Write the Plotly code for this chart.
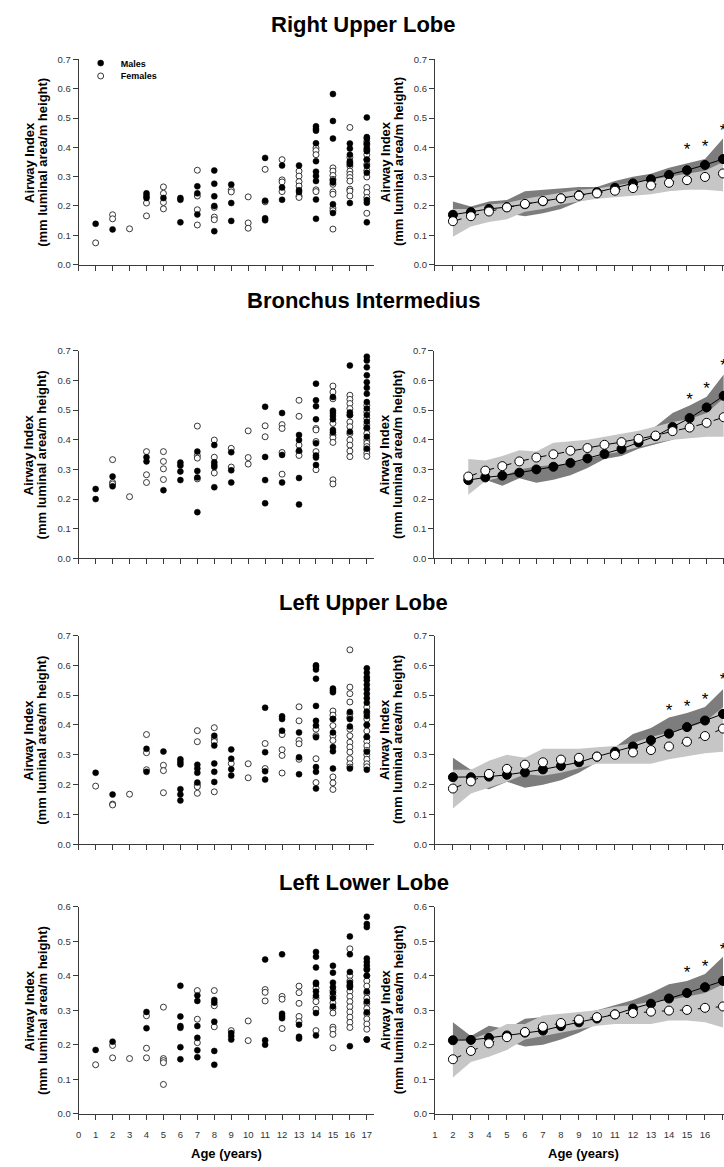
import plotly.graph_objects as go

FONT = "Liberation Sans, Arial, sans-serif"
W, H = 724, 1167

PANEL_TITLES = ["Right Upper Lobe", "Bronchus Intermedius", "Left Upper Lobe", "Left Lower Lobe"]
Y_TITLE_1 = "Airway Index"
Y_TITLE_2 = "(mm luminal area/m height)"
X_TITLE = "Age (years)"
LEGEND_NAMES = ["Males", "Females"]

SCATTER_START_AGE = 1
MODEL_AGES = list(range(2, 18))

# ---------------- individual data (one list per age, ages 1..17) ----------------
RUL_MALES = [[0.139], [0.120], [], [0.243, 0.234, 0.227], [0.227], [0.227, 0.221, 0.144],
             [0.267, 0.243, 0.171], [0.321, 0.276, 0.233, 0.200, 0.114], [0.273, 0.210, 0.149], [],
             [0.364, 0.218, 0.158, 0.151], [0.338, 0.263, 0.221], [0.338, 0.254, 0.248],
             [0.472, 0.463, 0.457, 0.414, 0.353, 0.317, 0.302, 0.285, 0.222, 0.156],
             [0.582, 0.490, 0.430, 0.287, 0.280, 0.206, 0.176],
             [0.413, 0.396, 0.375, 0.353, 0.342, 0.210],
             [0.502, 0.435, 0.430, 0.413, 0.398, 0.387, 0.358, 0.336, 0.313, 0.220, 0.211, 0.144]]
RUL_FEMALES = [[0.074], [0.170, 0.156], [0.122], [0.210, 0.166], [0.265, 0.243, 0.212, 0.190], [],
               [0.322, 0.234, 0.187, 0.135], [0.195, 0.162, 0.153], [0.255, 0.248], [0.231, 0.142, 0.124],
               [0.325, 0.214], [0.358, 0.289, 0.282, 0.249], [0.319, 0.302, 0.283, 0.268, 0.234, 0.229],
               [0.398, 0.389, 0.375, 0.255, 0.249],
               [0.330, 0.319, 0.304, 0.291, 0.274, 0.248, 0.240, 0.193, 0.184, 0.121],
               [0.468, 0.366, 0.347, 0.336, 0.319, 0.308, 0.297, 0.285, 0.257, 0.251, 0.234],
               [0.420, 0.409, 0.392, 0.375, 0.358, 0.342, 0.321, 0.299, 0.263, 0.246, 0.229, 0.175]]

BI_MALES = [[0.234, 0.200], [0.276, 0.243], [], [0.341, 0.327], [0.230], [0.323, 0.313, 0.293, 0.264],
            [0.360, 0.295, 0.273, 0.156], [0.382, 0.324, 0.315, 0.308, 0.240], [0.358, 0.297, 0.256], [],
            [0.511, 0.342, 0.264, 0.186], [0.490, 0.349, 0.256], [0.416, 0.399, 0.363, 0.271, 0.182],
            [0.589, 0.533, 0.513, 0.469, 0.388, 0.347, 0.340, 0.315],
            [0.544, 0.498, 0.490, 0.480, 0.469, 0.433, 0.425],
            [0.650, 0.492, 0.483, 0.427],
            [0.680, 0.667, 0.644, 0.617, 0.594, 0.575, 0.555, 0.527, 0.505, 0.483, 0.461, 0.440, 0.410, 0.370]]
BI_FEMALES = [[], [0.333, 0.256, 0.251], [0.208], [0.360, 0.282, 0.256], [0.360, 0.327, 0.302, 0.266], [],
              [0.446, 0.347, 0.338, 0.268], [0.399, 0.341, 0.288], [0.371, 0.308], [0.430, 0.340, 0.318],
              [0.447, 0.410], [0.451, 0.438, 0.357, 0.284], [0.533, 0.479, 0.382, 0.360, 0.347],
              [0.438, 0.433, 0.394, 0.360, 0.299],
              [0.581, 0.561, 0.538, 0.455, 0.416, 0.407, 0.391, 0.265, 0.251],
              [0.550, 0.536, 0.522, 0.505, 0.483, 0.460, 0.444, 0.421, 0.399, 0.382, 0.362, 0.343],
              [0.516, 0.494, 0.472, 0.450, 0.438, 0.421, 0.399, 0.388, 0.377, 0.366, 0.355, 0.344]]

LUL_MALES = [[0.240], [0.167], [], [0.320, 0.243], [0.311], [0.285, 0.276, 0.268, 0.185, 0.167, 0.147],
             [0.267, 0.254, 0.240, 0.207], [0.364, 0.331, 0.271, 0.243, 0.209], [0.318, 0.287, 0.252, 0.231], [],
             [0.458, 0.309, 0.245, 0.217], [0.429, 0.420, 0.381], [0.375, 0.292, 0.235],
             [0.600, 0.595, 0.586, 0.555, 0.464, 0.414, 0.398, 0.359, 0.259, 0.243, 0.187],
             [0.522, 0.516, 0.510, 0.420, 0.375, 0.326, 0.312, 0.254],
             [0.444, 0.420, 0.395, 0.254],
             [0.590, 0.575, 0.560, 0.550, 0.535, 0.520, 0.505, 0.490, 0.475, 0.445, 0.430, 0.400, 0.360, 0.310, 0.250]]
LUL_FEMALES = [[0.195], [0.135, 0.132], [0.168], [0.368, 0.307, 0.250], [0.265, 0.247, 0.173], [],
               [0.381, 0.344, 0.200, 0.193, 0.171], [0.391, 0.353, 0.344, 0.176], [0.271], [0.270, 0.223],
               [0.338, 0.254], [0.368, 0.317, 0.298, 0.239], [0.461, 0.414, 0.348, 0.337, 0.285],
               [0.386, 0.364, 0.287, 0.207],
               [0.447, 0.433, 0.420, 0.398, 0.364, 0.348, 0.226, 0.206, 0.184],
               [0.652, 0.527, 0.505, 0.477, 0.438, 0.425, 0.386, 0.364, 0.342, 0.326, 0.309, 0.287, 0.270, 0.259],
               [0.460, 0.440, 0.420, 0.400, 0.380, 0.360, 0.345, 0.330, 0.315, 0.300, 0.285, 0.270, 0.260]]

LLL_MALES = [[0.185], [0.209], [], [0.295, 0.248], [], [0.371, 0.282, 0.254, 0.249, 0.193, 0.158],
             [0.343, 0.327, 0.254, 0.220, 0.184, 0.164], [0.330, 0.322, 0.267, 0.182, 0.142],
             [0.234, 0.225, 0.215], [], [0.447, 0.213, 0.200], [0.462, 0.290, 0.283, 0.277],
             [0.258, 0.223, 0.218],
             [0.469, 0.455, 0.424, 0.380, 0.376, 0.354, 0.342, 0.292, 0.227],
             [0.429, 0.409, 0.380, 0.367, 0.351, 0.335, 0.311],
             [0.514, 0.462, 0.411, 0.380, 0.373, 0.367, 0.196],
             [0.571, 0.550, 0.541, 0.450, 0.440, 0.430, 0.417, 0.400, 0.354, 0.325, 0.294, 0.215]]
LLL_FEMALES = [[0.142], [0.198, 0.162], [0.160], [0.284, 0.190, 0.162], [0.309, 0.160, 0.154, 0.148, 0.085], [],
               [0.357, 0.274, 0.206], [0.357, 0.313, 0.252], [0.241], [0.269, 0.212],
               [0.360, 0.352, 0.327], [0.340, 0.332, 0.247], [0.370, 0.351, 0.320, 0.282, 0.267],
               [0.364, 0.335, 0.325, 0.303, 0.241],
               [0.357, 0.342, 0.321, 0.306, 0.292, 0.251, 0.244, 0.230, 0.191],
               [0.478, 0.400, 0.385, 0.370, 0.355, 0.340, 0.325, 0.310, 0.295, 0.280, 0.265, 0.250],
               [0.420, 0.400, 0.385, 0.370, 0.350, 0.335, 0.320, 0.305, 0.290, 0.275, 0.260, 0.245, 0.215]]

# ---------------- modelled means and bands (ages 2..17) ----------------
RUL_M_MEAN = [0.170, 0.179, 0.190, 0.196, 0.206, 0.216, 0.226, 0.237, 0.247, 0.262, 0.277, 0.291, 0.306, 0.322, 0.340, 0.360]
RUL_F_MEAN = [0.148, 0.165, 0.181, 0.195, 0.207, 0.217, 0.226, 0.235, 0.243, 0.252, 0.261, 0.270, 0.279, 0.288, 0.299, 0.311]
RUL_M_HI = [0.215, 0.198, 0.215, 0.220, 0.250, 0.255, 0.260, 0.265, 0.265, 0.285, 0.300, 0.310, 0.330, 0.345, 0.360, 0.430]
RUL_M_LO = [0.140, 0.165, 0.170, 0.175, 0.165, 0.175, 0.190, 0.215, 0.230, 0.240, 0.250, 0.265, 0.280, 0.290, 0.310, 0.310]
RUL_F_HI = [0.190, 0.190, 0.205, 0.210, 0.225, 0.235, 0.245, 0.255, 0.260, 0.270, 0.280, 0.290, 0.300, 0.310, 0.320, 0.350]
RUL_F_LO = [0.095, 0.130, 0.145, 0.155, 0.180, 0.190, 0.205, 0.215, 0.225, 0.230, 0.235, 0.240, 0.250, 0.255, 0.255, 0.250]

BI_M_MEAN = [0.264, 0.273, 0.279, 0.289, 0.300, 0.309, 0.322, 0.337, 0.352, 0.369, 0.391, 0.412, 0.443, 0.473, 0.509, 0.548]
BI_F_MEAN = [0.276, 0.296, 0.311, 0.327, 0.340, 0.351, 0.363, 0.372, 0.383, 0.392, 0.403, 0.414, 0.429, 0.441, 0.457, 0.476]
BI_M_HI = [0.280, 0.290, 0.300, 0.310, 0.330, 0.335, 0.345, 0.360, 0.375, 0.390, 0.420, 0.445, 0.490, 0.515, 0.545, 0.620]
BI_M_LO = [0.245, 0.265, 0.245, 0.270, 0.255, 0.265, 0.280, 0.305, 0.335, 0.345, 0.370, 0.385, 0.400, 0.430, 0.465, 0.480]
BI_F_HI = [0.335, 0.330, 0.345, 0.365, 0.360, 0.390, 0.395, 0.400, 0.410, 0.420, 0.430, 0.445, 0.460, 0.470, 0.490, 0.540]
BI_F_LO = [0.215, 0.260, 0.275, 0.300, 0.310, 0.315, 0.320, 0.335, 0.350, 0.360, 0.375, 0.390, 0.400, 0.405, 0.410, 0.410]

LUL_M_MEAN = [0.225, 0.225, 0.227, 0.233, 0.241, 0.251, 0.263, 0.275, 0.294, 0.310, 0.328, 0.349, 0.371, 0.393, 0.415, 0.437]
LUL_F_MEAN = [0.187, 0.211, 0.236, 0.253, 0.267, 0.275, 0.284, 0.290, 0.294, 0.300, 0.308, 0.316, 0.328, 0.344, 0.363, 0.388]
LUL_M_HI = [0.290, 0.250, 0.265, 0.260, 0.290, 0.285, 0.285, 0.290, 0.310, 0.325, 0.370, 0.390, 0.425, 0.440, 0.460, 0.520]
LUL_M_LO = [0.210, 0.205, 0.185, 0.210, 0.190, 0.200, 0.215, 0.240, 0.275, 0.290, 0.300, 0.315, 0.330, 0.350, 0.370, 0.370]
LUL_F_HI = [0.250, 0.250, 0.280, 0.300, 0.290, 0.320, 0.320, 0.320, 0.325, 0.330, 0.340, 0.360, 0.375, 0.390, 0.410, 0.460]
LUL_F_LO = [0.120, 0.170, 0.190, 0.210, 0.235, 0.230, 0.240, 0.255, 0.270, 0.270, 0.270, 0.270, 0.285, 0.295, 0.305, 0.310]

LLL_M_MEAN = [0.213, 0.214, 0.220, 0.227, 0.235, 0.241, 0.254, 0.265, 0.276, 0.288, 0.305, 0.319, 0.334, 0.350, 0.367, 0.385]
LLL_F_MEAN = [0.158, 0.182, 0.204, 0.222, 0.237, 0.252, 0.263, 0.273, 0.280, 0.288, 0.292, 0.296, 0.299, 0.301, 0.307, 0.311]
LLL_M_HI = [0.265, 0.225, 0.255, 0.245, 0.275, 0.280, 0.285, 0.290, 0.300, 0.315, 0.330, 0.350, 0.375, 0.385, 0.405, 0.455]
LLL_M_LO = [0.215, 0.210, 0.185, 0.210, 0.195, 0.200, 0.215, 0.235, 0.260, 0.270, 0.285, 0.290, 0.300, 0.315, 0.330, 0.330]
LLL_F_HI = [0.210, 0.215, 0.235, 0.260, 0.260, 0.285, 0.290, 0.295, 0.300, 0.310, 0.315, 0.325, 0.330, 0.340, 0.350, 0.375]
LLL_F_LO = [0.105, 0.150, 0.165, 0.185, 0.215, 0.225, 0.235, 0.245, 0.255, 0.260, 0.260, 0.260, 0.270, 0.270, 0.265, 0.250]

# significance markers (age, height)
RUL_STAR_AGES = [15, 16, 17]
RUL_STAR_Y = [0.389, 0.398, 0.454]
BI_STAR_AGES = [15, 16, 17]
BI_STAR_Y = [0.530, 0.567, 0.645]
LUL_STAR_AGES = [14, 15, 16, 17]
LUL_STAR_Y = [0.445, 0.459, 0.482, 0.548]
LLL_STAR_AGES = [15, 16, 17]
LLL_STAR_Y = [0.406, 0.423, 0.471]

Y_MAX = [0.7, 0.7, 0.7, 0.6]

# ---------------- styling / geometry ----------------
ROW_PX = [(54.0, 261.0), (348.0, 557.7), (635.5, 846.3), (909.3, 1118.3)]
TITLE_Y_PX = [18.5, 297.5, 602.5, 885.0]
LEFT_X_PX = (76.0, 373.0)
LEFT_RANGE = [0, 17.45]
RIGHT_X_PX = [(433.7, 724.0), (433.0, 724.0), (433.7, 724.0), (433.7, 724.0)]
RIGHT_RANGE = [[1, 17.056], [0, 17.02], [1, 17.056], [1, 17.056]]

DARK_BAND = "#7d7d7d"
LIGHT_BAND = "#c6c6c6"
AXIS_COLOR = "#3a3a3a"
TICK_FONT = dict(family=FONT, size=9.5, color="#333333")


def fx(p):
    return p / W


def fy(p):
    return 1 - p / H


def flatten(nested):
    xs, ys = [], []
    for i, vals in enumerate(nested):
        for v in vals:
            xs.append(SCATTER_START_AGE + i)
            ys.append(v)
    return xs, ys


scatter_sets = [(RUL_MALES, RUL_FEMALES), (BI_MALES, BI_FEMALES), (LUL_MALES, LUL_FEMALES), (LLL_MALES, LLL_FEMALES)]
model_sets = [
    (RUL_M_MEAN, RUL_F_MEAN, RUL_M_HI, RUL_M_LO, RUL_F_HI, RUL_F_LO, RUL_STAR_AGES, RUL_STAR_Y),
    (BI_M_MEAN, BI_F_MEAN, BI_M_HI, BI_M_LO, BI_F_HI, BI_F_LO, BI_STAR_AGES, BI_STAR_Y),
    (LUL_M_MEAN, LUL_F_MEAN, LUL_M_HI, LUL_M_LO, LUL_F_HI, LUL_F_LO, LUL_STAR_AGES, LUL_STAR_Y),
    (LLL_M_MEAN, LLL_F_MEAN, LLL_M_HI, LLL_M_LO, LLL_F_HI, LLL_F_LO, LLL_STAR_AGES, LLL_STAR_Y),
]

fig = go.Figure()
layout = dict(
    width=W, height=H, margin=dict(l=0, r=0, t=0, b=0),
    paper_bgcolor="white", plot_bgcolor="white",
    font=dict(family=FONT, color="black"),
    annotations=[],
)


def axis_common():
    return dict(showline=True, linecolor=AXIS_COLOR, linewidth=1, ticks="outside", ticklen=5,
                tickwidth=1, tickcolor=AXIS_COLOR, showgrid=False, zeroline=False, tickfont=TICK_FONT)


for r in range(4):
    top, bot = ROW_PX[r]
    ydom = [fy(bot), fy(top)]
    li = 2 * r + 1
    ri = 2 * r + 2
    lname = "" if li == 1 else str(li)
    rname = str(ri)
    bottom_row = r == 3

    # left axes
    xl = axis_common()
    xl.update(domain=[fx(LEFT_X_PX[0]), fx(LEFT_X_PX[1])], range=LEFT_RANGE, tickmode="linear", tick0=0,
              dtick=1, anchor="y" + lname, showticklabels=bottom_row, ticklabelstandoff=7)
    yl = axis_common()
    yl.update(domain=ydom, range=[0, Y_MAX[r]], tickmode="linear", tick0=0, dtick=0.1, tickformat=".1f",
              anchor="x" + lname)
    layout["xaxis" + lname] = xl
    layout["yaxis" + lname] = yl

    # right axes
    rx0, rx1 = RIGHT_X_PX[r]
    xr = axis_common()
    xr.update(domain=[fx(rx0), fx(rx1)], range=RIGHT_RANGE[r], tickmode="linear", tick0=0, dtick=1,
              anchor="y" + rname, showticklabels=bottom_row, ticklabelstandoff=7)
    yr = axis_common()
    yr.update(domain=ydom, range=[0, Y_MAX[r]], tickmode="linear", tick0=0, dtick=0.1, tickformat=".1f",
              anchor="x" + rname)
    layout["xaxis" + rname] = xr
    layout["yaxis" + rname] = yr

    # scatter panel
    males, females = scatter_sets[r]
    fxs, fys = flatten(females)
    mxs, mys = flatten(males)
    fig.add_trace(go.Scatter(x=fxs, y=fys, mode="markers", xaxis="x" + lname, yaxis="y" + lname,
                             name=LEGEND_NAMES[1], showlegend=(r == 0), legend="legend2",
                             marker=dict(size=6, color="white", line=dict(color="#222222", width=0.9))))
    fig.add_trace(go.Scatter(x=mxs, y=mys, mode="markers", xaxis="x" + lname, yaxis="y" + lname,
                             name=LEGEND_NAMES[0], showlegend=(r == 0), legend="legend",
                             marker=dict(size=6, color="black", line=dict(color="black", width=0.5))))

    # model panel
    mm, fm, mhi, mlo, fhi, flo, sa, sy = model_sets[r]
    xa = MODEL_AGES
    fig.add_trace(go.Scatter(x=xa + xa[::-1], y=mhi + mlo[::-1], mode="lines", fill="toself",
                             fillcolor=DARK_BAND, line=dict(width=0, color=DARK_BAND),
                             xaxis="x" + rname, yaxis="y" + rname, showlegend=False, hoverinfo="skip"))
    fig.add_trace(go.Scatter(x=xa + xa[::-1], y=fhi + flo[::-1], mode="lines", fill="toself",
                             fillcolor=LIGHT_BAND, line=dict(width=0, color=LIGHT_BAND),
                             xaxis="x" + rname, yaxis="y" + rname, showlegend=False, hoverinfo="skip"))
    fig.add_trace(go.Scatter(x=xa, y=mm, mode="lines+markers", xaxis="x" + rname, yaxis="y" + rname,
                             showlegend=False, line=dict(color="black", width=1),
                             marker=dict(size=9, color="black", line=dict(color="black", width=1))))
    fig.add_trace(go.Scatter(x=xa, y=fm, mode="lines+markers", xaxis="x" + rname, yaxis="y" + rname,
                             showlegend=False, line=dict(color="black", width=1, dash="dash"),
                             marker=dict(size=9, color="white", line=dict(color="black", width=1))))
    fig.add_trace(go.Scatter(x=sa, y=sy, mode="text", text=["*"] * len(sa), textposition="middle center",
                             textfont=dict(family=FONT, size=17, color="black"),
                             xaxis="x" + rname, yaxis="y" + rname, showlegend=False, cliponaxis=False))

    # row title
    layout["annotations"].append(dict(text="<b>%s</b>" % PANEL_TITLES[r], xref="paper", yref="paper",
                                      x=0.5, y=fy(TITLE_Y_PX[r]), xanchor="center", yanchor="middle",
                                      showarrow=False, font=dict(family=FONT, size=22, color="black")))
    # y axis titles
    ymid = fy((top + bot) / 2)
    for axis_px in (LEFT_X_PX[0], rx0):
        for txt, off in ((Y_TITLE_1, 50.0), (Y_TITLE_2, 37.0)):
            layout["annotations"].append(dict(text="<b>%s</b>" % txt, xref="paper", yref="paper",
                                              x=fx(axis_px - off), y=ymid, xanchor="center", yanchor="middle",
                                              textangle=-90, showarrow=False,
                                              font=dict(family=FONT, size=13, color="black")))

# x axis titles
for cx in (224.5, 583.0):
    layout["annotations"].append(dict(text="<b>%s</b>" % X_TITLE, xref="paper", yref="paper",
                                      x=fx(cx), y=fy(1158.0), xanchor="center", yanchor="middle",
                                      showarrow=False, font=dict(family=FONT, size=13, color="black")))

legend_common = dict(xanchor="left", yanchor="top", bgcolor="rgba(0,0,0,0)", borderwidth=0, itemclick=False)
layout["legend"] = dict(x=fx(78), y=fy(43), font=dict(family=FONT, size=9, color="black", weight="bold"),
                        **legend_common)
layout["legend2"] = dict(x=fx(78), y=fy(56), font=dict(family=FONT, size=9, color="black", weight="bold"),
                         **legend_common)

fig.update_layout(**layout)
fig.write_html("out.html")
